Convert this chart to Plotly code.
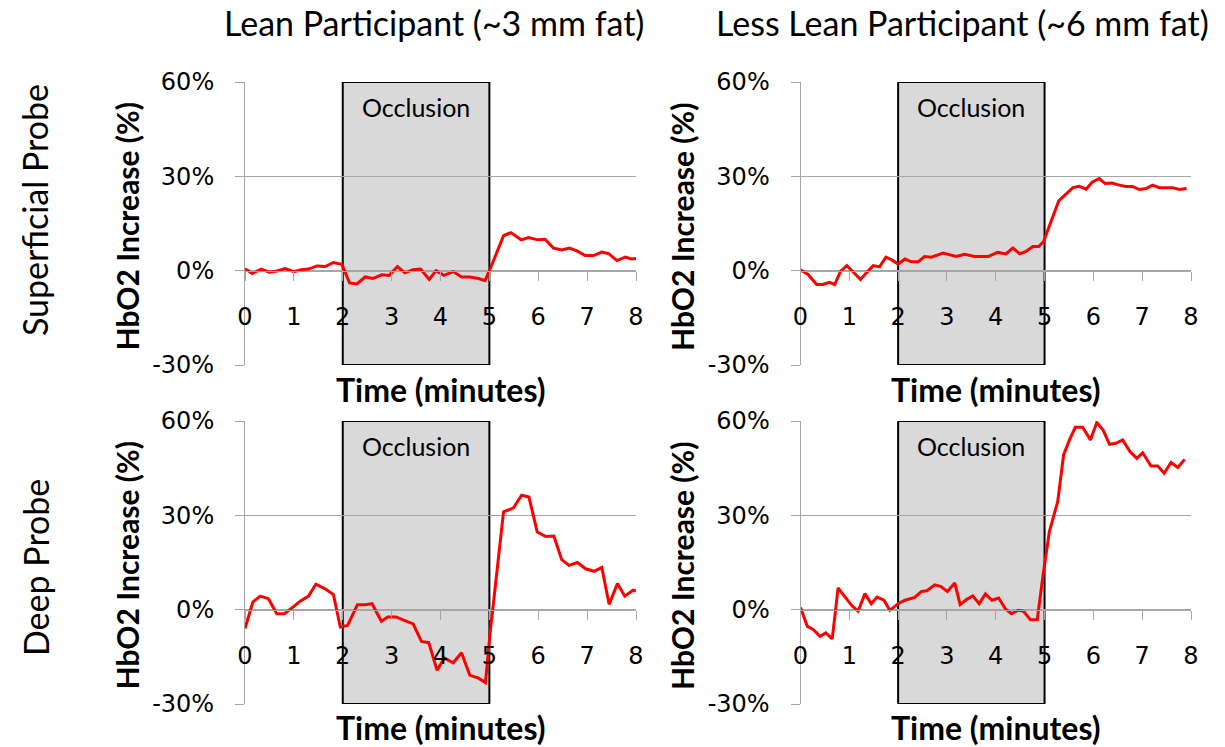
import plotly.graph_objects as go

# ---------------- data ----------------
t_tl = [0, 0.15, 0.33, 0.50, 0.65, 0.82, 1.0, 1.15, 1.30, 1.47, 1.64, 1.81, 1.98, 2.14, 2.29, 2.46, 2.61,
        2.80, 2.95, 3.12, 3.27, 3.44, 3.59, 3.77, 3.91, 4.07, 4.26, 4.43, 4.60, 4.78, 4.91, 5.01, 5.29,
        5.44, 5.65, 5.80, 5.99, 6.14, 6.31, 6.48, 6.64, 6.79, 6.96, 7.13, 7.30, 7.44, 7.61, 7.78, 7.91, 8.0]
v_tl = [0.6, -0.9, 0.5, -0.5, -0.1, 0.7, -0.3, 0.3, 0.5, 1.5, 1.3, 2.6, 2.0, -3.9, -4.2, -2.0, -2.5,
        -1.3, -1.5, 1.3, -0.7, 0.3, 0.5, -2.8, 0.0, -1.5, -0.3, -2.0, -2.0, -2.5, -3.2, 0.3, 11.1,
        12.1, 9.8, 10.5, 9.8, 10.0, 7.2, 6.6, 7.2, 6.3, 4.8, 4.8, 5.9, 5.4, 3.2, 4.3, 3.7, 3.9]

t_tr = [0, 0.16, 0.33, 0.46, 0.59, 0.70, 0.82, 0.95, 1.11, 1.23, 1.35, 1.49, 1.62, 1.75, 1.86, 2.0,
        2.14, 2.27, 2.41, 2.54, 2.68, 2.92, 3.19, 3.36, 3.57, 3.84, 4.04, 4.21, 4.35, 4.49, 4.62, 4.76,
        4.88, 4.98, 5.29, 5.58, 5.71, 5.85, 5.98, 6.12, 6.24, 6.38, 6.53, 6.67, 6.80, 6.94, 7.08, 7.21,
        7.35, 7.48, 7.62, 7.76, 7.91]
v_tr = [0.3, -1.3, -4.4, -4.4, -3.7, -4.4, -0.2, 1.6, -0.9, -2.8, -0.7, 1.6, 1.2, 4.3, 3.5, 2.1,
        3.7, 2.8, 2.8, 4.5, 4.3, 5.6, 4.5, 5.2, 4.5, 4.5, 5.8, 5.3, 7.2, 5.4, 6.1, 7.7,
        7.7, 9.3, 22.2, 26.4, 26.8, 25.9, 28.2, 29.3, 27.7, 27.9, 27.2, 26.8, 26.8, 25.8, 26.1, 27.2,
        26.4, 26.3, 26.4, 25.8, 26.1]

t_bl = [0, 0.16, 0.31, 0.48, 0.65, 0.81, 0.98, 1.13, 1.30, 1.45, 1.63, 1.81, 1.95, 2.10, 2.30, 2.46,
        2.60, 2.79, 2.92, 3.09, 3.27, 3.44, 3.61, 3.76, 3.93, 4.08, 4.26, 4.43, 4.60, 4.77, 4.92, 5.01,
        5.29, 5.49, 5.66, 5.81, 5.98, 6.15, 6.32, 6.48, 6.63, 6.80, 6.97, 7.14, 7.30, 7.45, 7.62, 7.77,
        7.94, 8.0]
v_bl = [-6.0, 2.4, 4.3, 3.5, -1.3, -1.3, 0.8, 2.7, 4.3, 8.1, 6.7, 4.8, -5.5, -5.0, 1.6, 1.6,
        1.9, -3.7, -2.3, -2.3, -3.5, -4.5, -10.1, -10.5, -19.3, -15.4, -16.9, -13.7, -20.9, -21.7, -23.2, -8.2,
        31.1, 32.3, 36.4, 35.8, 24.7, 23.3, 23.4, 15.9, 14.1, 15.0, 13.0, 12.2, 13.4, 1.7, 8.3, 4.3,
        6.2, 5.9]

t_br = [0, 0.14, 0.26, 0.40, 0.52, 0.65, 0.77, 0.91, 1.05, 1.18, 1.32, 1.45, 1.57, 1.71, 1.83, 2.0,
        2.14, 2.34, 2.48, 2.59, 2.75, 2.87, 3.01, 3.16, 3.27, 3.40, 3.53, 3.66, 3.79, 3.92, 4.06, 4.20,
        4.32, 4.46, 4.57, 4.71, 4.85, 4.97, 5.10, 5.27, 5.39, 5.51, 5.63, 5.78, 5.94, 6.07, 6.20, 6.33,
        6.46, 6.60, 6.75, 6.89, 7.01, 7.18, 7.32, 7.45, 7.59, 7.73, 7.87]
v_br = [0.7, -5.3, -6.3, -8.5, -7.4, -9.3, 6.9, 4.0, 1.3, -0.5, 5.1, 1.9, 4.0, 3.0, -0.2, 1.9,
        3.0, 3.9, 5.8, 6.0, 7.9, 7.4, 5.8, 8.5, 1.6, 3.2, 4.4, 1.9, 5.0, 3.0, 3.7, 0.2,
        -1.3, -0.2, -0.5, -3.2, -3.2, 11.1, 24.9, 34.4, 49.2, 54.0, 58.0, 58.0, 54.0, 59.5, 57.1, 52.6,
        52.9, 54.0, 50.3, 48.1, 49.9, 45.7, 45.7, 43.4, 46.8, 45.2, 47.8]

col_titles = ["Lean Participant (~3 mm fat)", "Less Lean Participant (~6 mm fat)"]
row_titles = ["Superficial Probe", "Deep Probe"]
y_title = "HbO2 Increase (%)"
x_title = "Time (minutes)"
box_label = "Occlusion"
occl_start, occl_end = 2, 5
y_ticks = [-30, 0, 30, 60]
y_tick_text = ["-30%", "0%", "30%", "60%"]
x_ticks = [0, 1, 2, 3, 4, 5, 6, 7, 8]
y_range = [-30, 60]
x_range = [0, 8]

# ---------------- layout geometry ----------------
W, H = 1225, 747
x_doms = [[245 / W, 636 / W], [800.5 / W, 1191 / W]]
y_doms = [[1 - 365 / H, 1 - 82 / H], [1 - 704 / H, 1 - 421 / H]]

TITLE_FONT = "Lato"
TICK_FONT = "DejaVu Sans"
GRID = "#a6a6a6"

series = [(t_tl, v_tl), (t_tr, v_tr), (t_bl, v_bl), (t_br, v_br)]

fig = go.Figure()
layout = dict(
    width=W, height=H, autosize=False, margin=dict(l=0, r=0, t=0, b=0, pad=0),
    paper_bgcolor="white", plot_bgcolor="white", showlegend=False,
    shapes=[], annotations=[],
)

for i, (t, v) in enumerate(series):
    r, c = divmod(i, 2)
    n = "" if i == 0 else str(i + 1)
    xd, yd = x_doms[c], y_doms[r]
    zero_pos = yd[0] + (yd[1] - yd[0]) * (0 - y_range[0]) / (y_range[1] - y_range[0])
    fig.add_trace(go.Scatter(x=t, y=v, mode="lines", xaxis="x" + n, yaxis="y" + n,
                             line=dict(color="#ff0000", width=3), hoverinfo="skip"))
    layout["xaxis" + n] = dict(
        domain=xd, range=x_range, anchor="free", position=zero_pos,
        tickmode="array", tickvals=x_ticks, ticktext=[str(k) for k in x_ticks],
        showgrid=False, zeroline=False, showline=True, linecolor=GRID, linewidth=1,
        ticks="outside", ticklen=9, tickcolor=GRID, tickwidth=1,
        ticklabelstandoff=16, automargin=False,
        tickfont=dict(family=TICK_FONT, size=24, color="#000000"),
        fixedrange=True,
    )
    layout["yaxis" + n] = dict(
        domain=yd, range=y_range, anchor="x" + n,
        tickmode="array", tickvals=y_ticks, ticktext=y_tick_text,
        showgrid=True, gridcolor=GRID, gridwidth=1, zeroline=False,
        showline=True, linecolor=GRID, linewidth=1,
        ticks="outside", ticklen=9, tickcolor=GRID, tickwidth=1,
        ticklabelstandoff=16, automargin=False,
        tickfont=dict(family=TICK_FONT, size=24, color="#000000"),
        fixedrange=True,
    )
    layout["shapes"].append(dict(
        type="rect", xref="x" + n, yref="y" + n, x0=occl_start, x1=occl_end,
        y0=y_range[0], y1=y_range[1], fillcolor="#d9d9d9",
        line=dict(color="#000000", width=2), layer="below"))
    layout["annotations"].append(dict(
        text=box_label, xref="x" + n, yref="paper", x=(occl_start + occl_end) / 2,
        y=yd[1] - 25 / H, showarrow=False, xanchor="center", yanchor="middle",
        font=dict(family=TITLE_FONT, size=25, color="#000000")))
    # axis titles
    layout["annotations"].append(dict(
        text="<b>" + y_title + "</b>", xref="paper", yref="paper",
        x=(xd[0] * W - 119) / W, y=(yd[0] + yd[1]) / 2 - 3 / H, textangle=-90,
        showarrow=False, xanchor="center", yanchor="middle",
        font=dict(family=TITLE_FONT, size=30, color="#000000")))
    layout["annotations"].append(dict(
        text="<b>" + x_title + "</b>", xref="paper", yref="paper",
        x=(xd[0] + xd[1]) / 2, y=yd[0] - 24 / H,
        showarrow=False, xanchor="center", yanchor="middle",
        font=dict(family=TITLE_FONT, size=32, color="#000000")))

for c, txt in enumerate(col_titles):
    layout["annotations"].append(dict(
        text=txt, xref="paper", yref="paper", x=[434 / W, 962 / W][c], y=1 - 22 / H,
        showarrow=False, xanchor="center", yanchor="middle",
        font=dict(family=TITLE_FONT, size=34, color="#000000")))

for r, txt in enumerate(row_titles):
    layout["annotations"].append(dict(
        text=txt, xref="paper", yref="paper", x=35 / W, y=1 - [210, 568][r] / H, textangle=-90,
        showarrow=False, xanchor="center", yanchor="middle",
        font=dict(family=TITLE_FONT, size=34, color="#000000")))

fig.update_layout(**layout)
fig.write_html("out.html")
